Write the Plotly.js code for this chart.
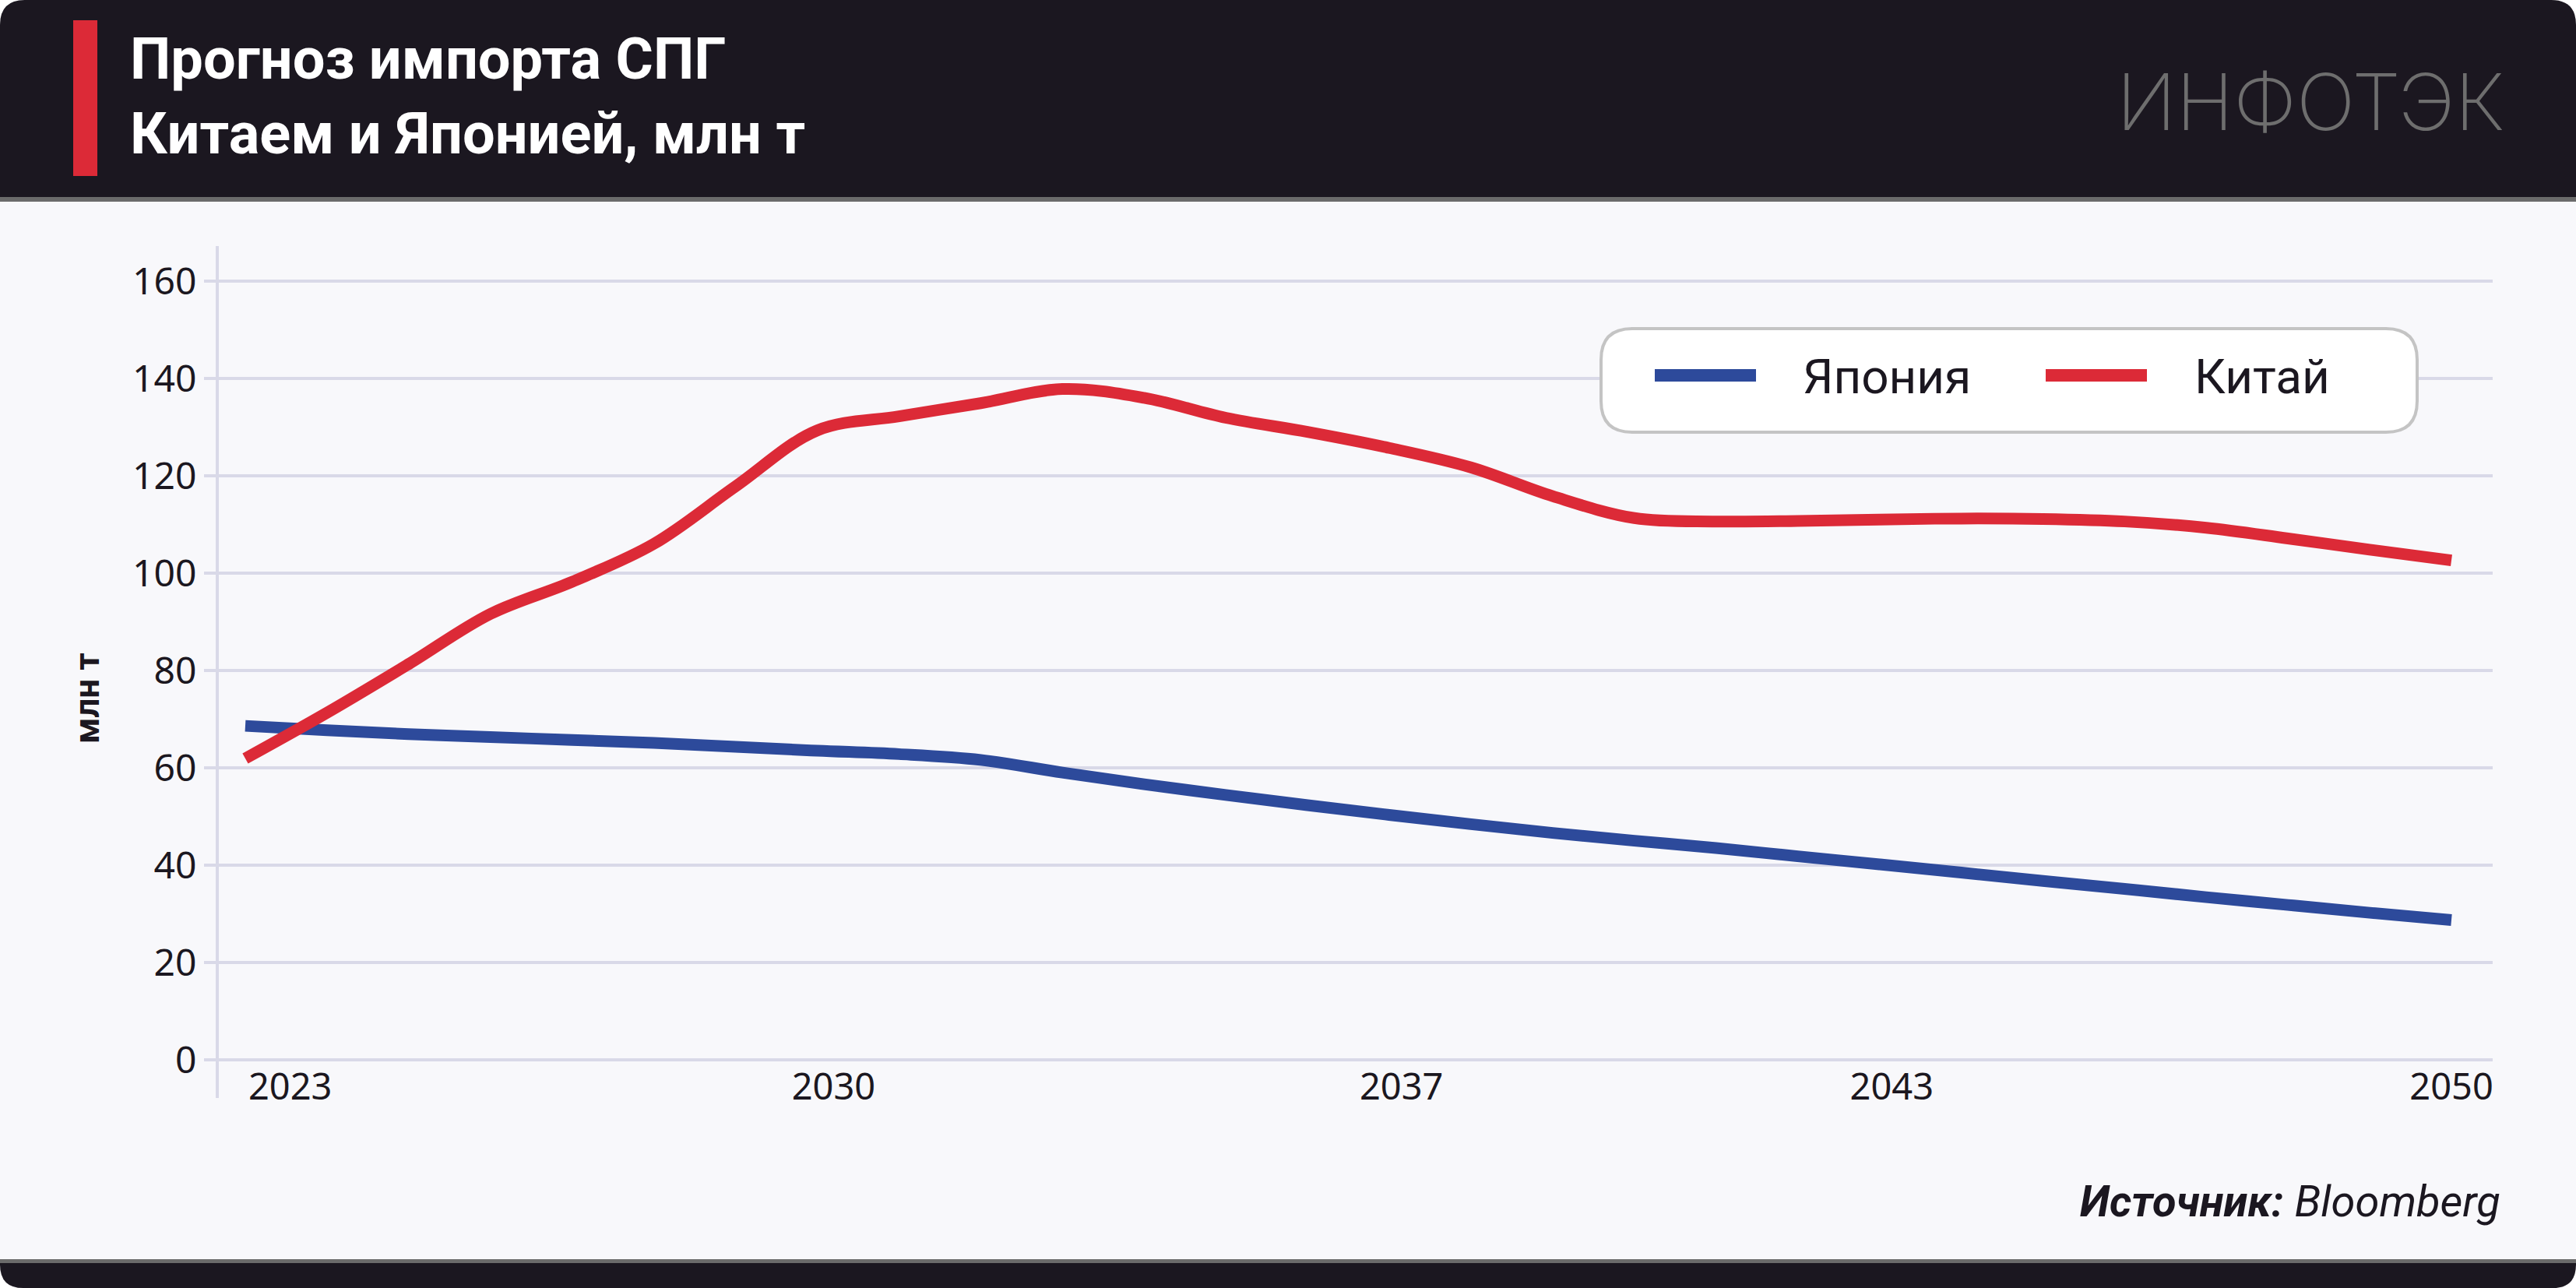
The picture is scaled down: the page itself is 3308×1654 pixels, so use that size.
<!DOCTYPE html>
<html>
<head>
<meta charset="utf-8">
<script src="https://cdn.plot.ly/plotly-3.0.1.min.js"></script>
<style>
  html, body { margin: 0; padding: 0; background: #ffffff; }
  #chart { width: 3308px; height: 1654px; }
</style>
</head>
<body>
<div id="chart"></div>
<script>
// ---------- DATA ----------
const years = [2023,2024,2025,2026,2027,2028,2029,2030,2031,2032,2033,2034,2035,2036,
               2037,2038,2039,2040,2041,2042,2043,2044,2045,2046,2047,2048,2049,2050];
const japan = [68.6,67.7,66.9,66.3,65.7,65.1,64.3,63.5,62.8,61.6,59.0,56.6,54.4,52.3,
               50.3,48.4,46.6,45.0,43.5,41.8,40.15,38.45,36.75,35.1,33.4,31.8,30.2,28.7];
const china = [61.9,71.3,81.3,91.6,98.2,106.0,117.8,129.3,132.2,134.9,137.8,136.0,131.9,129.0,
               125.7,121.7,115.8,111.3,110.6,110.7,111.0,111.2,111.1,110.6,109.3,107.1,104.8,102.6];
const seriesNames = ['Япония', 'Китай'];
const xTickText = ['2023','2030','2037','2043','2050'];
const xTickPos  = [2023.55, 2030.2, 2037.15, 2043.15, 2050];
const yTicks = [0,20,40,60,80,100,120,140,160];
const titleText = 'Прогноз импорта СПГ<br>Китаем и Японией, млн т';
const yTitle = 'млн т';
const sourceText = '<b><i>Источник:</i></b> <i>Bloomberg</i>';
const logoText = 'ИНФОТЭК';

// ---------- STYLE ----------
const W = 3308, H = 1654;
const L = 279, R = 3201, T = 314, B = 1364;
const DARK = '#1b1720', GRID = '#d9d9e8', BG = '#f8f8fb', GREYLINE = '#6b6b6b';
const BLUE = '#2d4a9b', RED = '#dc2a37';

function px(X) { return (X - L) / (R - L); }
function py(Y) { return (B - Y) / (B - T); }
function P(X, Y) { return px(X).toFixed(6) + ',' + py(Y).toFixed(6); }
function roundRect(x0, y0, x1, y1, rTL, rTR, rBR, rBL) {
  return 'M' + P(x0 + rTL, y0) + ' L' + P(x1 - rTR, y0) +
         ' Q' + P(x1, y0) + ' ' + P(x1, y0 + rTR) +
         ' L' + P(x1, y1 - rBR) + ' Q' + P(x1, y1) + ' ' + P(x1 - rBR, y1) +
         ' L' + P(x0 + rBL, y1) + ' Q' + P(x0, y1) + ' ' + P(x0, y1 - rBL) +
         ' L' + P(x0, y0 + rTL) + ' Q' + P(x0, y0) + ' ' + P(x0 + rTL, y0) + ' Z';
}
function rectShape(x0, y0, x1, y1, color, layer) {
  return {type: 'rect', xref: 'paper', yref: 'paper', x0: px(x0), x1: px(x1), y0: py(y1), y1: py(y0),
          fillcolor: color, line: {width: 0}, layer: layer || 'below'};
}

const traces = [
  {x: years, y: japan, name: seriesNames[0], type: 'scatter', mode: 'lines',
   line: {color: BLUE, width: 15, shape: 'spline', smoothing: 1}, hoverinfo: 'skip'},
  {x: years, y: china, name: seriesNames[1], type: 'scatter', mode: 'lines',
   line: {color: RED, width: 15, shape: 'spline', smoothing: 1}, hoverinfo: 'skip'}
];

const shapes = [
  {type: 'path', xref: 'paper', yref: 'paper', path: roundRect(0, 0, W, 253, 32, 32, 0, 0),
   fillcolor: DARK, line: {width: 0}, layer: 'below'},
  rectShape(0, 253, W, 259, GREYLINE),
  rectShape(0, 259, W, 1617, BG),
  rectShape(0, 1617, W, 1622, GREYLINE),
  {type: 'path', xref: 'paper', yref: 'paper', path: roundRect(0, 1622, W, 1654, 0, 0, 30, 30),
   fillcolor: DARK, line: {width: 0}, layer: 'below'},
  rectShape(94, 26, 125, 226, RED),
  // y axis line (extends below zero like the reference)
  {type: 'line', xref: 'paper', yref: 'paper', x0: 0, x1: 0, y0: py(1410), y1: py(316),
   line: {color: GRID, width: 4}, layer: 'below'},
  // legend box
  {type: 'path', xref: 'paper', yref: 'paper', path: roundRect(2056, 422, 3104, 555, 40, 40, 40, 40),
   fillcolor: '#ffffff', line: {color: '#c4c4c4', width: 4}, layer: 'above'},
  {type: 'line', xref: 'paper', yref: 'paper', x0: px(2125), x1: px(2255), y0: py(482), y1: py(482),
   line: {color: BLUE, width: 16}, layer: 'above'},
  {type: 'line', xref: 'paper', yref: 'paper', x0: px(2627), x1: px(2757), y0: py(482), y1: py(482),
   line: {color: RED, width: 16}, layer: 'above'}
];

const annotations = [
  {text: logoText, xref: 'paper', yref: 'paper', x: px(2967), y: py(131), xanchor: 'center', yanchor: 'middle',
   showarrow: false, font: {family: 'Inter, Noto Sans, sans-serif', size: 100, color: '#6e6e6e', weight: 200}},
  {text: yTitle, xref: 'paper', yref: 'paper', x: px(112), y: py(897), xanchor: 'center', yanchor: 'middle',
   textangle: -90, showarrow: false, font: {family: 'Roboto, sans-serif', size: 44, color: DARK, weight: 700}},
  {text: seriesNames[0], xref: 'paper', yref: 'paper', x: px(2313), y: py(483), xanchor: 'left', yanchor: 'middle',
   showarrow: false, font: {family: 'Roboto, sans-serif', size: 62, color: DARK}},
  {text: seriesNames[1], xref: 'paper', yref: 'paper', x: px(2816), y: py(483), xanchor: 'left', yanchor: 'middle',
   showarrow: false, font: {family: 'Roboto, sans-serif', size: 62, color: DARK}},
  {text: sourceText, xref: 'paper', yref: 'paper', x: px(3213), y: py(1543), xanchor: 'right', yanchor: 'middle',
   showarrow: false, font: {family: 'Roboto, sans-serif', size: 56, color: DARK}}
];

const layout = {
  width: W, height: H,
  margin: {l: L, r: W - R, t: T, b: H - B, pad: 0},
  paper_bgcolor: '#ffffff',
  plot_bgcolor: 'rgba(0,0,0,0)',
  showlegend: false,
  hovermode: false,
  title: {text: titleText, xref: 'container', yref: 'container', x: 167 / W, xanchor: 'left',
          y: 1 - 101 / H, yanchor: 'top',
          font: {family: 'Roboto, sans-serif', size: 74, color: '#ffffff', weight: 700}},
  xaxis: {
    range: [2022.657, 2050.505], tickmode: 'array', tickvals: xTickPos, ticktext: xTickText,
    showgrid: false, zeroline: false, showline: false, ticks: '',
    tickfont: {family: 'Noto Sans, sans-serif', size: 47, color: DARK}
  },
  yaxis: {
    range: [-0.5, 167.5], tickmode: 'array', tickvals: yTicks,
    showgrid: true, gridcolor: GRID, gridwidth: 4, zeroline: false, showline: false,
    ticks: 'outside', ticklen: 16, tickwidth: 4, tickcolor: GRID,
    tickfont: {family: 'Noto Sans, sans-serif', size: 48, color: DARK}
  },
  shapes: shapes,
  annotations: annotations
};

Plotly.newPlot('chart', traces, layout, {staticPlot: true, displayModeBar: false});
</script>
</body>
</html>
